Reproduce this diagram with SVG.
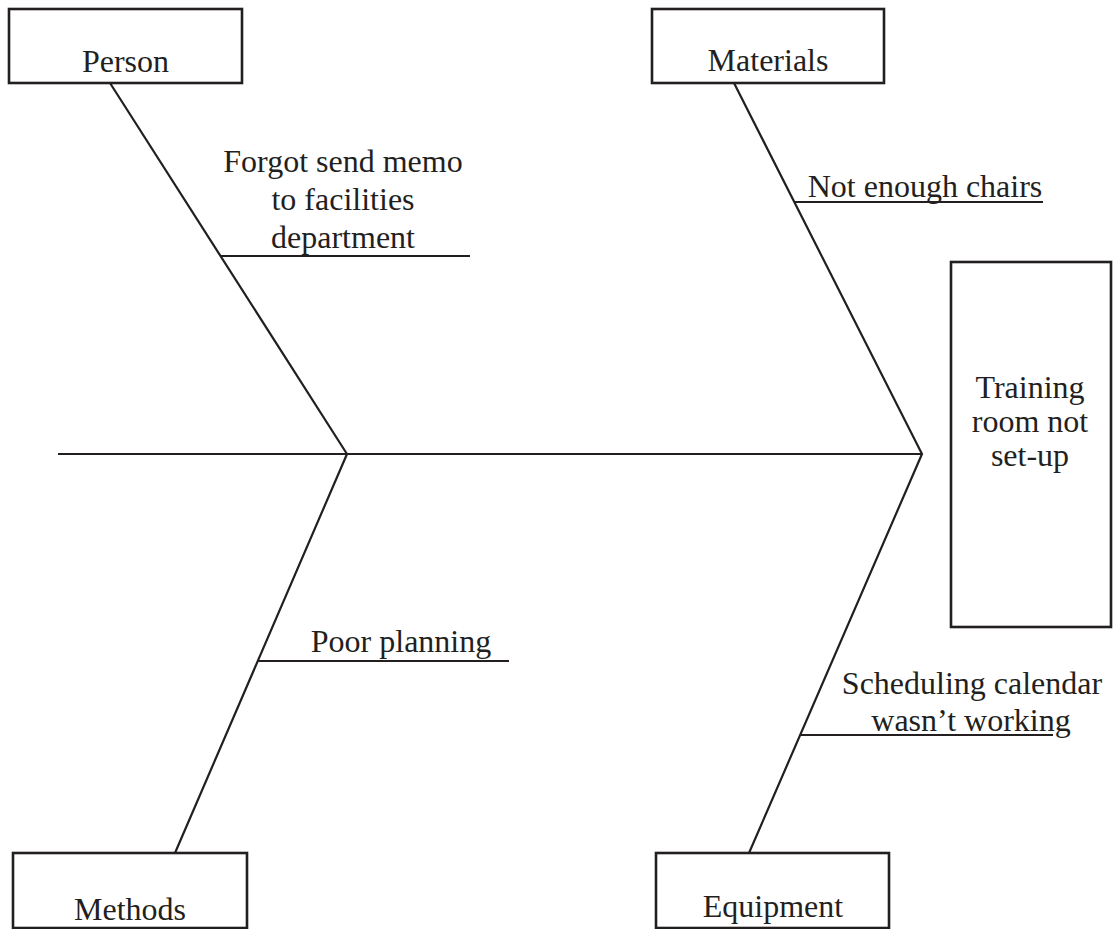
<svg xmlns="http://www.w3.org/2000/svg" width="1114" height="929" viewBox="0 0 1114 929">
<style>
.box{fill:#fff;stroke:#231f20;stroke-width:2.6}
.ln{stroke:#231f20;stroke-width:2.2;fill:none;stroke-linecap:butt}
text{font-family:"Liberation Serif","Times New Roman",serif;font-size:32px;fill:#231f20;text-anchor:middle}
</style>
<rect width="1114" height="929" fill="#fff"/>
<g id="connectors">
<line class="ln" x1="58" y1="454" x2="922" y2="454"/>
<polyline class="ln" points="110,83 347,454 175,853"/>
<polyline class="ln" points="734,83 922,454 749,853"/>
<line class="ln" x1="220" y1="256" x2="470" y2="256"/>
<line class="ln" x1="794" y1="202" x2="1043" y2="202"/>
<line class="ln" x1="258" y1="661" x2="509" y2="661"/>
<line class="ln" x1="801" y1="735" x2="1053" y2="735"/>
</g>
<g id="person"><rect class="box" x="9" y="9" width="233" height="74"/><text x="125.5" y="72">Person</text></g>
<g id="materials"><rect class="box" x="652" y="9" width="232" height="74"/><text x="768" y="71">Materials</text></g>
<g id="methods"><rect class="box" x="13" y="853" width="234" height="75"/><text x="130" y="920">Methods</text></g>
<g id="equipment"><rect class="box" x="656" y="853" width="233" height="75"/><text x="773" y="917">Equipment</text></g>
<g id="effect"><rect class="box" x="951" y="262" width="160" height="365"/><text x="1030" y="398">Training</text><text x="1030" y="432">room not</text><text x="1030" y="466">set-up</text></g>
<g id="cause-person"><text x="343" y="172">Forgot send memo</text><text x="343" y="210">to facilities</text><text x="343" y="248">department</text></g>
<g id="cause-materials"><text x="925" y="197">Not enough chairs</text></g>
<g id="cause-methods"><text x="401" y="652">Poor planning</text></g>
<g id="cause-equipment"><text x="972" y="694">Scheduling calendar</text><text x="971" y="731">wasn’t working</text></g>
</svg>
